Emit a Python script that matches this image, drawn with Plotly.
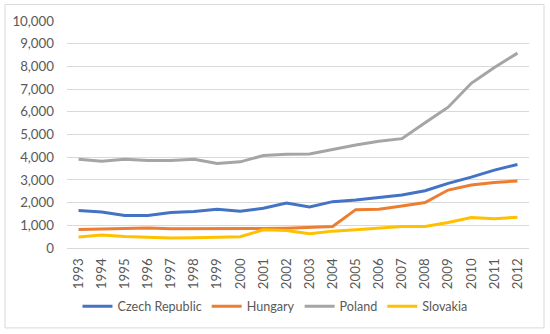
import plotly.graph_objects as go

years = [str(y) for y in range(1993, 2013)]
czech = [1647, 1590, 1428, 1428, 1560, 1603, 1708, 1620, 1752, 1985, 1810, 2042, 2110, 2218, 2335, 2523, 2847, 3123, 3430, 3680]
hungary = [815, 830, 876, 876, 845, 845, 845, 832, 860, 875, 920, 947, 1690, 1708, 1853, 2000, 2553, 2773, 2890, 2948]
poland = [3911, 3824, 3911, 3854, 3854, 3911, 3723, 3795, 4073, 4130, 4140, 4336, 4540, 4700, 4818, 5519, 6203, 7254, 7955, 8585]
slovakia = [482, 570, 508, 464, 438, 452, 464, 495, 800, 771, 626, 743, 800, 860, 949, 949, 1124, 1343, 1284, 1358]

series = [
    ("Czech Republic", czech, "#4472C4"),
    ("Hungary", hungary, "#ED7D31"),
    ("Poland", poland, "#A5A5A5"),
    ("Slovakia", slovakia, "#FFC000"),
]

fig = go.Figure()
for name, vals, color in series:
    fig.add_trace(go.Scatter(x=years, y=vals, name=name, mode="lines",
                             line=dict(color=color, width=3)))

W, H = 550, 334
L, R, T, B = 67, 21, 20.5, 85.7
pw, ph = W - L - R, H - T - B

def px2paper_x(px):
    return (px - L) / pw

def px2paper_y(py):
    return (H - B - py) / ph

fs = 13.3
fig.update_layout(
    width=W, height=H,
    margin=dict(l=L, r=R, t=T, b=B, pad=0, autoexpand=False),
    paper_bgcolor="white", plot_bgcolor="white",
    font=dict(family="Lato, Open Sans, sans-serif", size=fs, color="#595959"),
    xaxis=dict(type="category", range=[-0.5, 19.5], tickangle=-90,
               showgrid=False, showline=True, linecolor="#D9D9D9", linewidth=1,
               ticks="", automargin=False, ticklabelstandoff=4,
               tickfont=dict(size=fs, color="#595959")),
    yaxis=dict(range=[0, 10000], dtick=1000, tickformat=",d",
               showgrid=True, gridcolor="#D9D9D9", gridwidth=1,
               zeroline=False, showline=False, ticks="", automargin=False,
               ticklabelstandoff=12,
               tickfont=dict(size=fs, color="#595959")),
    legend=dict(orientation="h", x=px2paper_x(275), xanchor="center",
                y=px2paper_y(307), yanchor="middle",
                font=dict(size=12.6, color="#595959"),
                itemwidth=30, tracegroupgap=0),
    shapes=[dict(type="rect", xref="paper", yref="paper",
                 x0=px2paper_x(5), x1=px2paper_x(544),
                 y0=px2paper_y(328.5), y1=px2paper_y(4),
                 line=dict(color="#D9D9D9", width=1), layer="below")],
    showlegend=True,
)

fig.write_html("out.html", config={"displayModeBar": False},
               post_script="document.body.style.margin='0';")
